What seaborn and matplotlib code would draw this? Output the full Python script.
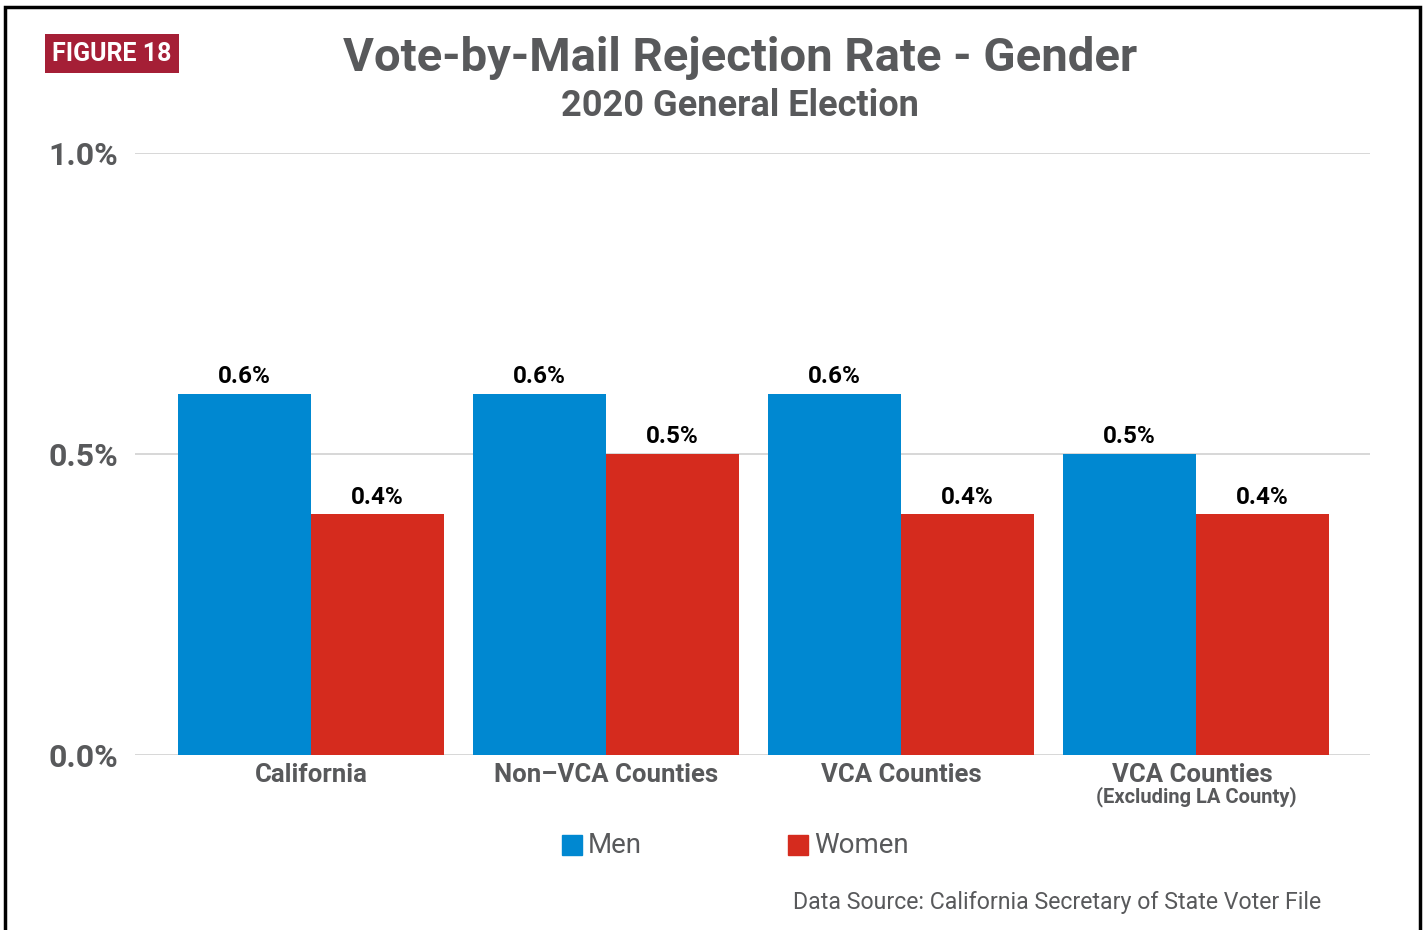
import pandas as pd
import seaborn as sns
import matplotlib.pyplot as plt
from matplotlib.patches import Rectangle

# values
regions = ["California", "Non\u2013VCA Counties", "VCA Counties", "VCA Counties "]
men = [0.6, 0.6, 0.6, 0.5]
women = [0.4, 0.5, 0.4, 0.4]
genders = ["Men", "Women"]
yticks = [0.0, 0.5, 1.0]
ytick_labels = ["0.0%", "0.5%", "1.0%"]

df = pd.DataFrame({
    "Region": regions * 2,
    "Gender": ["Men"] * 4 + ["Women"] * 4,
    "Rate": men + women,
})

blue = "#0088D1"
red = "#D52B1E"
gray = "#58595B"

sns.set_theme(style="white")
plt.rcParams["font.family"] = ["Roboto", "DejaVu Sans"]

fig = plt.figure(figsize=(14.26, 9.30), dpi=100)
ax = fig.add_axes([0.0947, 0.1882, 0.866, 0.6473])

sns.barplot(data=df, x="Region", y="Rate", hue="Gender", order=regions,
            hue_order=genders, palette=[blue, red], width=0.9,
            saturation=1, linewidth=0, ax=ax, legend=False)

ax.set_ylim(0, 1.0)
ax.set_xlim(-0.597, 3.59)
ax.set_yticks(yticks)
ax.set_yticklabels(ytick_labels, fontsize=23, fontweight="bold", color=gray)
ax.tick_params(axis="y", length=0, pad=12)
ax.tick_params(axis="x", length=0, pad=6)
ax.set_xticks(range(len(regions)))
ax.set_xticklabels(regions, fontsize=18.5, fontweight="bold", color=gray)
ax.set_xlabel("")
ax.set_ylabel("")
for y in yticks:
    ax.axhline(y, color="#D4D4D4", lw=1.3, zorder=0)
for s in ax.spines.values():
    s.set_visible(False)

for c in ax.containers:
    ax.bar_label(c, labels=[f"{v:.1f}%" for v in c.datavalues],
                 fontsize=17.5, fontweight="bold", color="black", padding=4)

ax.text(3, -0.07, "(Excluding LA County)", transform=ax.get_xaxis_transform(),
        ha="center", va="center", fontsize=14.5, fontweight="bold", color=gray)

# legend
fig.patches.append(Rectangle((562 / 1426, 1 - 855 / 930), 20 / 1426, 20 / 930,
                             transform=fig.transFigure, color=blue))
fig.text(588 / 1426, 1 - 845 / 930, "Men", fontsize=20, color=gray, va="center")
fig.patches.append(Rectangle((788 / 1426, 1 - 855 / 930), 20 / 1426, 20 / 930,
                             transform=fig.transFigure, color=red))
fig.text(814 / 1426, 1 - 845 / 930, "Women", fontsize=20, color=gray, va="center")

# titles
fig.text(740 / 1426, 1 - 58 / 930, "Vote-by-Mail Rejection Rate - Gender",
         ha="center", va="center", fontsize=34, fontweight="bold", color=gray)
fig.text(740 / 1426, 1 - 106 / 930, "2020 General Election",
         ha="center", va="center", fontsize=26, fontweight="bold", color=gray)
fig.text(112 / 1426, 1 - 54 / 930, "FIGURE 18", ha="center", va="center",
         fontsize=18, fontweight="bold", color="white",
         bbox=dict(boxstyle="square,pad=0.3", fc="#A51F36", ec="none"))

fig.text(1321 / 1426, 1 - 902 / 930, "Data Source: California Secretary of State Voter File",
         ha="right", va="center", fontsize=16.7, color=gray)

# frame
fig.patches.append(Rectangle((5 / 1426, -0.05), 1415 / 1426, 1.05 - 7 / 930,
                             transform=fig.transFigure, fill=False,
                             ec="black", lw=2.5))

fig.savefig("out.png", dpi=100)
